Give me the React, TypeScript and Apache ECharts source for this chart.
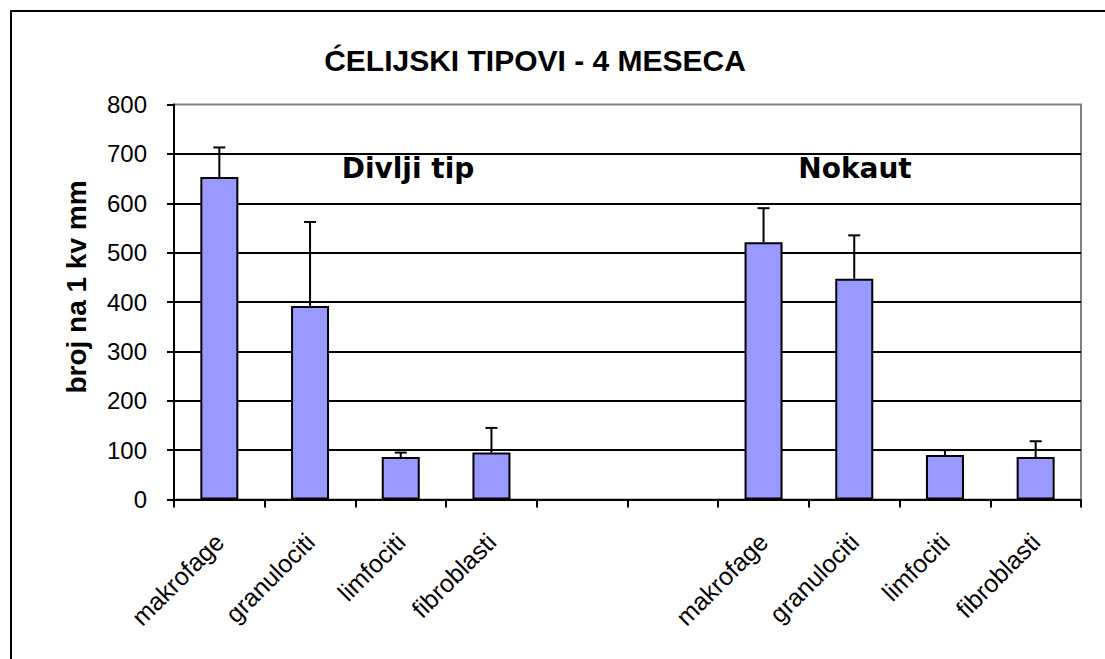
import React, { useEffect, useRef } from "react";
import * as echarts from "echarts";

const categories = [
  "makrofage",
  "granulociti",
  "limfociti",
  "fibroblasti",
  "",
  "",
  "makrofage",
  "granulociti",
  "limfociti",
  "fibroblasti",
];
const wildMeans = [653, 392, 86, 95];
const wildErr = [60, 170, 9, 50];
const koMeans = [521, 447, 90, 86];
const koErr = [69, 88, 10, 32];
const yTicks = [0, 100, 200, 300, 400, 500, 600, 700, 800];

const titleText = "ĆELIJSKI TIPOVI - 4 MESECA";
const yTitle = "broj na 1 kv mm";
const groupLabels = ["Divlji tip", "Nokaut"];

export default function App() {
  const ref = useRef<HTMLDivElement>(null);

  useEffect(() => {
    if (!ref.current) return;
    const chart = echarts.init(ref.current, null, { renderer: "svg" });

    const means: (number | null)[] = [...wildMeans, null, null, ...koMeans];
    const errs: (number | null)[] = [...wildErr, null, null, ...koErr];
    const errData: any[] = [];
    means.forEach((m, i) => {
      if (m !== null && errs[i] !== null) errData.push([i, m, errs[i]]);
    });

    const font = "'Liberation Sans', Arial, sans-serif";

    chart.setOption({
      animation: false,
      backgroundColor: "#ffffff",
      grid: {
        left: 174,
        right: 24,
        top: 104.5,
        bottom: 159.5,
        containLabel: false,
        show: true,
        borderColor: "#808080",
        borderWidth: 2,
        backgroundColor: "#ffffff",
      },
      xAxis: {
        type: "category",
        data: categories,
        boundaryGap: true,
        axisLine: { show: true, lineStyle: { color: "#000", width: 2 } },
        axisTick: {
          show: true,
          interval: 0,
          length: 8,
          lineStyle: { color: "#000", width: 2 },
        },
        axisLabel: {
          interval: 0,
          rotate: 45,
          fontSize: 25,
          color: "#000",
          fontFamily: font,
          margin: 38,
        },
        splitLine: { show: false },
      },
      yAxis: {
        type: "value",
        min: yTicks[0],
        max: yTicks[yTicks.length - 1],
        interval: 100,
        axisLine: { show: true, lineStyle: { color: "#000", width: 2 } },
        axisTick: { show: true, length: 7, lineStyle: { color: "#000", width: 2 } },
        axisLabel: {
          fontSize: 24,
          color: "#000",
          fontFamily: font,
          margin: 27,
        },
        splitLine: {
          show: true,
          showMaxLine: false,
          lineStyle: { color: "#000", width: 2 },
        },
      },
      series: [
        {
          type: "bar",
          data: means,
          barWidth: 38,
          itemStyle: { color: "#9999FF", borderColor: "#000", borderWidth: 2 },
          z: 2,
        },
        {
          type: "custom",
          data: errData,
          z: 3,
          renderItem: (params: any, api: any) => {
            const x = api.value(0);
            const m = api.value(1);
            const e = api.value(2);
            const p0 = api.coord([x, m]);
            const p1 = api.coord([x, m + e]);
            return {
              type: "group",
              children: [
                {
                  type: "line",
                  shape: { x1: p0[0], y1: p0[1], x2: p1[0], y2: p1[1] },
                  style: { stroke: "#000", lineWidth: 2 },
                },
                {
                  type: "line",
                  shape: { x1: p1[0] - 6, y1: p1[1], x2: p1[0] + 6, y2: p1[1] },
                  style: { stroke: "#000", lineWidth: 2 },
                },
              ],
            };
          },
        },
      ],
      graphic: [
        {
          type: "rect",
          shape: { x: 11, y: 11, width: 1200, height: 800 },
          style: { fill: "none", stroke: "#000", lineWidth: 2 },
          silent: true,
          z: 10,
        },
        {
          type: "text",
          x: 535,
          y: 60,
          style: {
            text: titleText,
            fontSize: 30,
            fontWeight: "bold",
            fontFamily: font,
            fill: "#000",
            align: "center",
            verticalAlign: "middle",
          },
          z: 10,
        },
        {
          type: "text",
          x: 76,
          y: 287,
          rotation: Math.PI / 2,
          style: {
            text: yTitle,
            fontSize: 28,
            fontWeight: "bold",
            fontFamily: font,
            fill: "#000",
            align: "center",
            verticalAlign: "middle",
          },
          z: 10,
        },
        {
          type: "text",
          x: 408,
          y: 168,
          style: {
            text: groupLabels[0],
            fontSize: 28,
            fontWeight: "bold",
            fontFamily: "'DejaVu Sans', Verdana, sans-serif",
            fill: "#000",
            align: "center",
            verticalAlign: "middle",
          },
          z: 10,
        },
        {
          type: "text",
          x: 855,
          y: 168,
          style: {
            text: groupLabels[1],
            fontSize: 28,
            fontWeight: "bold",
            fontFamily: "'DejaVu Sans', Verdana, sans-serif",
            fill: "#000",
            align: "center",
            verticalAlign: "middle",
          },
          z: 10,
        },
      ],
    });

    return () => chart.dispose();
  }, []);

  return (
    <div
      ref={ref}
      style={{ position: "fixed", left: 0, top: 0, width: 1105, height: 659 }}
    />
  );
}
